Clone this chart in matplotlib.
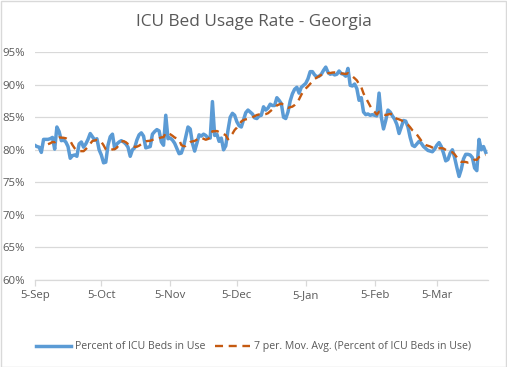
import numpy as np
import pandas as pd
import matplotlib
matplotlib.use("Agg")
import matplotlib.pyplot as plt
from matplotlib.patches import Rectangle

# daily values, percent of ICU beds in use (Georgia), from 5-Sep-2020
start_date = "2020-09-05"
icu_pct = [
    80.7, 80.5, 80.4, 79.6, 81.6, 81.6, 81.6, 81.7, 81.9, 80.1,
    83.5, 82.8, 81.4, 81.5, 81.2, 80.5, 78.7, 79.1, 79.2, 79.0,
    80.9, 81.2, 80.4, 80.9, 81.6, 82.5, 82.0, 81.5, 81.7, 80.0,
    79.2, 78.0, 78.1, 80.7, 82.0, 82.4, 80.2, 80.9, 81.2, 81.4,
    81.2, 80.9, 80.4, 79.0, 80.0, 80.3, 81.5, 82.3, 82.6, 82.1,
    80.3, 80.4, 80.5, 82.4, 82.8, 83.1, 82.9, 81.2, 80.7, 85.3,
    81.7, 81.8, 81.5, 81.0, 80.2, 79.4, 79.5, 80.5, 82.0, 83.5,
    83.2, 81.0, 79.8, 81.0, 82.3, 82.1, 82.4, 82.2, 81.8, 81.8,
    87.4, 82.2, 82.4, 81.3, 81.8, 80.0, 80.6, 83.0, 85.0, 85.6,
    85.3, 84.3, 83.7, 83.5, 84.6, 85.7, 86.1, 85.8, 85.5, 84.9,
    84.8, 85.2, 85.3, 86.6, 86.1, 86.4, 87.0, 86.8, 86.8, 88.0,
    87.6, 87.1, 85.0, 84.8, 85.8, 87.5, 88.6, 89.3, 89.6, 88.7,
    89.6, 89.9, 90.2, 90.9, 92.0, 92.0, 91.5, 91.2, 91.3, 91.6,
    92.2, 92.7, 91.9, 91.6, 91.7, 91.5, 91.6, 92.1, 91.7, 91.6,
    91.3, 92.5, 89.9, 89.8, 90.1, 89.4, 87.6, 88.0, 85.8, 85.4,
    85.5, 85.3, 85.4, 85.3, 85.2, 88.7, 85.0, 83.2, 84.5, 86.1,
    85.8, 85.2, 84.7, 83.9, 82.5, 83.5, 84.5, 84.4, 83.5, 81.9,
    80.7, 80.5, 80.9, 81.3, 81.0, 80.5, 80.2, 79.9, 79.8, 79.7,
    80.1, 80.7, 81.1, 80.5, 79.5, 78.3, 78.5, 79.5, 80.0, 78.8,
    77.3, 75.9, 77.0, 78.6, 79.3, 79.3, 79.2, 78.8, 77.2, 76.8,
    81.6, 80.0, 80.5, 79.6,
]
tick_dates = ["2020-09-05", "2020-10-05", "2020-11-05", "2020-12-05",
              "2021-01-05", "2021-02-05", "2021-03-05"]
tick_labels = ["5-Sep", "5-Oct", "5-Nov", "5-Dec", "5-Jan", "5-Feb", "5-Mar"]
y_ticks = [60, 65, 70, 75, 80, 85, 90, 95]

dates = pd.date_range(start_date, periods=len(icu_pct), freq="D")
s = pd.Series(np.array(icu_pct) / 100.0, index=dates)
mov_avg = s.rolling(7).mean()

TXT = "#595959"
BLUE = "#5b9bd5"
ORANGE = "#c55a11"

plt.rcParams["font.family"] = ["Open Sans", "DejaVu Sans"]

fig = plt.figure(figsize=(5.07, 3.67), dpi=100)
fig.patches.append(Rectangle((0.001, 0.001), 0.997, 0.996, transform=fig.transFigure,
                             fill=False, edgecolor="#d9d9d9", linewidth=1))
ax = fig.add_axes([0.0684, 0.237, 0.894, 0.621])

ax.plot(s.index, s.values, color=BLUE, linewidth=2.5, solid_joinstyle="round",
        label="Percent of ICU Beds in Use", zorder=3)
ax.plot(mov_avg.index, mov_avg.values, color=ORANGE, linewidth=1.7,
        linestyle=(0, (3.4, 2.4)),
        label="7 per. Mov. Avg. (Percent of ICU Beds in Use)", zorder=4)

ax.set_ylim(0.60, 0.95)
ax.set_yticks([v / 100 for v in y_ticks])
ax.set_yticklabels([f"{v}%" for v in y_ticks])
ax.set_xlim(dates[0], dates[-1] + pd.Timedelta(days=1))
ax.set_xticks(pd.to_datetime(tick_dates))
ax.set_xticklabels(tick_labels)

ax.grid(axis="y", color="#d9d9d9", linewidth=0.9)
ax.set_axisbelow(True)
for side in ["left", "right", "top"]:
    ax.spines[side].set_visible(False)
ax.spines["bottom"].set_color("#d9d9d9")
ax.spines["bottom"].set_linewidth(0.9)
ax.tick_params(axis="y", length=0, pad=7, labelsize=8.2, labelcolor=TXT)
ax.tick_params(axis="x", length=4, width=0.9, color="#d9d9d9", pad=3,
               labelsize=8.2, labelcolor=TXT)

fig.text(0.5, 0.94, "ICU Bed Usage Rate - Georgia", ha="center", va="center",
         fontsize=12.4, color=TXT)

fig.legend(loc="center", bbox_to_anchor=(0.5, 0.055), ncol=2, frameon=False,
           fontsize=7.6, labelcolor=TXT, handlelength=3.3, handletextpad=0.38,
           columnspacing=1.0)

fig.savefig("out.png", dpi=100)
